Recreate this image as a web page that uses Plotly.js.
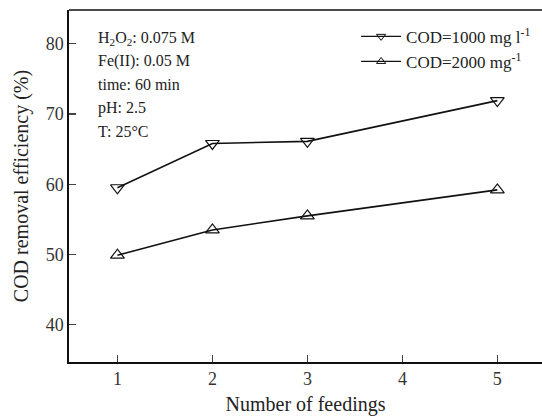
<!DOCTYPE html>
<html>
<head>
<meta charset="utf-8">
<script src="https://cdn.plot.ly/plotly-3.0.1.min.js"></script>
<style>html,body{margin:0;padding:0;background:#fff;}#chart{width:542px;height:416px;}</style>
</head>
<body>
<div id="chart"></div>
<script>
var feedings = [1, 2, 3, 5];
var cod1000 = [59.5, 65.8, 66.1, 71.9];
var cod2000 = [49.9, 53.5, 55.5, 59.2];
var seriesNames = ['COD=1000 mg l<sup>-1</sup>', 'COD=2000 mg<sup>-1</sup>'];
var conditions = ['H<sub>2</sub>O<sub>2</sub>: 0.075 M', 'Fe(II): 0.05 M', 'time: 60 min', 'pH: 2.5', 'T: 25°C'];
var xTicks = [1, 2, 3, 4, 5];
var yTicks = [40, 50, 60, 70, 80];

var font = 'Liberation Serif, Times New Roman, serif';
var traces = [
  {x: feedings, y: cod1000, mode: 'lines+markers', showlegend: false,
   line: {color: '#111', width: 1.6},
   marker: {symbol: 'triangle-down-open', size: 12, color: '#111', line: {width: 1.2}}},
  {x: feedings, y: cod2000, mode: 'lines+markers', showlegend: false,
   line: {color: '#111', width: 1.6},
   marker: {symbol: 'triangle-up-open', size: 12, color: '#111', line: {width: 1.2}}},
  {x: [null], y: [null], mode: 'lines+markers', name: seriesNames[0],
   line: {color: '#111', width: 1.3},
   marker: {symbol: 'triangle-down-open', size: 8, color: '#111', line: {width: 1}}},
  {x: [null], y: [null], mode: 'lines+markers', name: seriesNames[1],
   line: {color: '#111', width: 1.3},
   marker: {symbol: 'triangle-up-open', size: 8, color: '#111', line: {width: 1}}}
];

var annotations = conditions.map(function (t, i) {
  return {text: t, xref: 'paper', yref: 'paper', x: 0.058, y: 0.92 - i * 0.066,
    xanchor: 'left', yanchor: 'middle', showarrow: false,
    font: {family: font, size: 16, color: '#222'}};
});

var layout = {
  width: 542, height: 416,
  margin: {l: 69, r: 0, t: 10, b: 54},
  paper_bgcolor: '#fff', plot_bgcolor: '#fff',
  font: {family: font, color: '#222'},
  showlegend: true,
  legend: {x: 0.607, y: 0.975, xanchor: 'left', yanchor: 'top', bgcolor: 'rgba(0,0,0,0)',
    font: {family: font, size: 17, color: '#222'}, tracegroupgap: 0, itemwidth: 40},
  xaxis: {range: [0.49, 5.47], tickvals: xTicks, ticks: 'inside', ticklen: 7, tickwidth: 1.3,
    showline: true, linecolor: '#111', linewidth: 1.6, mirror: false, showgrid: false, zeroline: false,
    tickfont: {family: font, size: 18, color: '#333'},
    title: {text: 'Number of feedings', font: {family: font, size: 20, color: '#222'}, standoff: 10}},
  yaxis: {range: [34.7, 84.8], tickvals: yTicks, ticks: 'inside', ticklen: 7, tickwidth: 1.3,
    showline: true, linecolor: '#111', linewidth: 1.6, showgrid: false, zeroline: false,
    tickfont: {family: font, size: 18, color: '#333'},
    title: {text: 'COD removal efficiency (%)', font: {family: font, size: 20, color: '#222'}, standoff: 12}},
  shapes: [{type: 'line', xref: 'paper', yref: 'paper', x0: 0, x1: 1, y0: 1, y1: 1,
    line: {color: '#111', width: 1.6}}],
  annotations: annotations
};

Plotly.newPlot('chart', traces, layout, {displayModeBar: false, staticPlot: true});
</script>
</body>
</html>
